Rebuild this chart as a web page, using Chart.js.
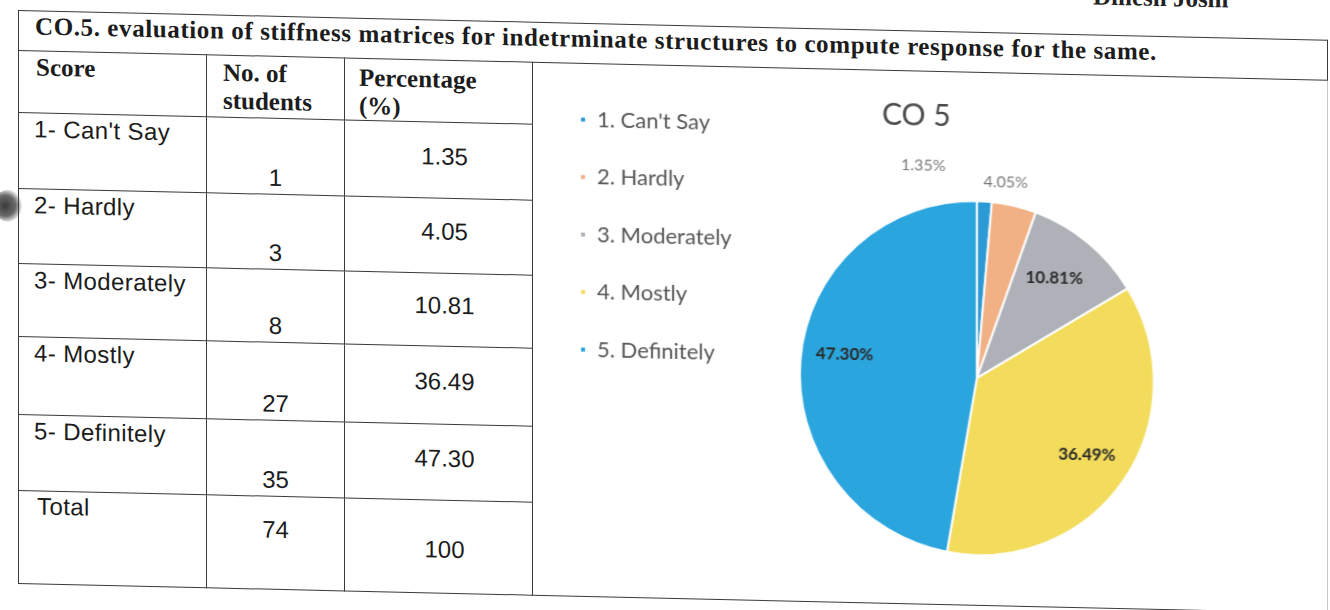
<!DOCTYPE html>
<html>
<head>
<meta charset="utf-8">
<script src="https://cdn.jsdelivr.net/npm/chart.js@4"></script>
<style>
  html, body { margin: 0; padding: 0; background: #fff; }
  body { width: 1330px; height: 610px; position: relative; overflow: hidden; }
  /* the scanned page is slightly tilted */
  #page { position: absolute; left: 18px; top: 10px; width: 1320px; height: 600px;
          transform-origin: 0 0; transform: skewY(1.3deg); }
  #topline { position: absolute; left: 1075px; top: -52px; font: bold 25px "Liberation Serif", serif; color: #222; white-space: nowrap; }
  #hole { position: absolute; left: -24px; top: 180px; width: 28px; height: 32px; border-radius: 50%;
          background: radial-gradient(circle at 40% 50%, #3a3a3a 0%, #6a6a6a 45%, rgba(255,255,255,0) 75%); }
  table { position: absolute; left: 0; top: 0; width: 1310px; border-collapse: collapse; table-layout: fixed; }
  td { border: 1.6px solid #3a3a3a; padding: 0; vertical-align: top; color: #1c1c1c; }
  td.chartCell { border-right-color: #c8c8c8; }
  .title { height: 38px; font: bold 25px "Liberation Serif", serif; line-height: 29px; padding: 0 0 0 16px; white-space: nowrap; letter-spacing: 0.6px; }
  .hd { font: bold 25px "Liberation Serif", serif; line-height: 28px; padding-top: 3px; }
  .score { font: 24px "Liberation Sans", Arial, sans-serif; line-height: 26px; letter-spacing: 0.4px; padding: 3px 0 0 15px; }
  .num { font: 24px "Liberation Sans", Arial, sans-serif; line-height: 24px; text-align: center; vertical-align: bottom; padding: 0 0 4px 0; }
  .pct { font: 24px "Liberation Sans", Arial, sans-serif; line-height: 26px; text-align: center; vertical-align: middle; padding: 0 0 8px 12px; }
  #chartBox { position: absolute; left: 517px; top: 42px; width: 770px; height: 528px; }
</style>
</head>
<body>
<div id="page">
  <div id="topline">Dinesh Joshi</div>
  <div id="hole"></div>
  <table id="tbl"></table>
  <div id="chartBox"><canvas id="pieChart"></canvas></div>
</div>
<script>
const tableTitle = 'CO.5. evaluation of stiffness matrices for indetrminate structures to compute response for the same.';
const scoreLabels = ["1- Can't Say", '2- Hardly', '3- Moderately', '4- Mostly', '5- Definitely'];
const legendLabels = ["1. Can't Say", '2. Hardly', '3. Moderately', '4. Mostly', '5. Definitely'];
const students = [1, 3, 8, 27, 35];
const percentages = [1.35, 4.05, 10.81, 36.49, 47.30];
const totalStudents = 74;
const totalPercent = '100';
const sliceColors = ['#2C9AD5', '#F2B184', '#AEB2B8', '#F3DC5C', '#2BA5DE'];
const rowHeights = [76, 75, 73, 78, 76, 93];

// table built from the arrays above
const tbl = document.getElementById('tbl');
let html = '<colgroup><col style="width:188px"><col style="width:138px"><col style="width:188px"><col></colgroup>';
html += '<tr style="height:40px"><td class="title" colspan="4">' + tableTitle + '</td></tr>';
html += '<tr style="height:62px"><td class="hd" style="padding-left:17px;padding-top:2px">Score</td>' +
        '<td class="hd" style="padding-left:16px">No. of<br>students</td>' +
        '<td class="hd" style="padding-left:14px;padding-top:5px">Percentage<br>(%)</td><td class="chartCell" rowspan="7"></td></tr>';
scoreLabels.forEach((s, i) => {
    html += '<tr style="height:' + rowHeights[i] + 'px"><td class="score">' + s + '</td><td class="num">' + students[i] +
            '</td><td class="pct">' + percentages[i].toFixed(2) + '</td></tr>';
});
html += '<tr style="height:' + rowHeights[5] + 'px"><td class="score" style="padding:2px 0 0 18px">Total</td>' +
        '<td class="num" style="vertical-align:top;padding-top:21px">' + totalStudents + '</td>' +
        '<td class="pct" style="vertical-align:top;padding:36px 0 0 12px">' + totalPercent + '</td></tr>';
tbl.innerHTML = html;

// percentage labels on / beside the slices
const sliceLabels = {
    id: 'sliceLabels',
    afterLayout(chart, args, opts) {
        // the title sits a little left of the pie centre
        const t = chart.titleBlock;
        if (t) { t.left += opts.titleShift; t.right += opts.titleShift; }
    },
    afterDatasetsDraw(chart, args, opts) {
        const ctx = chart.ctx;
        const meta = chart.getDatasetMeta(0);
        ctx.save();
        ctx.textAlign = 'center';
        ctx.textBaseline = 'middle';
        meta.data.forEach((arc, i) => {
            const v = chart.data.datasets[0].data[i];
            const mid = (arc.startAngle + arc.endAngle) / 2;
            const outside = v < 5;
            const r = outside ? arc.outerRadius + opts.outsideGap : arc.outerRadius * opts.insideRatio;
            let x = arc.x + Math.cos(mid) * r;
            let y = arc.y + Math.sin(mid) * r;
            const n = opts.nudge[i] || [0, 0];
            x += n[0]; y += n[1];
            if (outside) {
                ctx.font = '16px Lato, "Open Sans", sans-serif';
                ctx.fillStyle = '#7a7a7a';
            } else {
                ctx.font = 'bold 17px Lato, "Open Sans", sans-serif';
                ctx.fillStyle = '#2a2a2a';
            }
            ctx.fillText(v.toFixed(2) + '%', x, y);
        });
        ctx.restore();
    }
};

const pieCtx = document.getElementById('pieChart').getContext('2d');
new Chart(pieCtx, {
    type: 'pie',
    data: {
        labels: legendLabels,
        datasets: [{
            data: percentages,
            backgroundColor: sliceColors,
            borderColor: '#ffffff',
            borderWidth: 2
        }]
    },
    options: {
        responsive: true,
        maintainAspectRatio: false,
        animation: false,
        layout: { padding: { top: 8.3, bottom: 45.7, left: 9.5, right: 93 } },
        plugins: {
            title: {
                display: true,
                text: 'CO 5',
                color: '#4a4a4a',
                font: { family: 'Lato, "Open Sans", sans-serif', size: 30, weight: 'normal' },
                padding: { top: 17.3, bottom: 64.7 }
            },
            legend: {
                position: 'left',
                align: 'start',
                labels: {
                    usePointStyle: true,
                    pointStyle: 'rect',
                    boxWidth: 6,
                    boxHeight: 6,
                    padding: 35.5,
                    color: '#555555',
                    font: { family: 'Lato, "Open Sans", sans-serif', size: 22 }
                }
            },
            tooltip: { enabled: false },
            sliceLabels: {
                outsideGap: 22,
                insideRatio: 0.75,
                nudge: [[-62, -13], [-13, -2], [-6, 2], [0, 0], [0, -10]],
                titleShift: 38
            }
        }
    },
    plugins: [sliceLabels]
});
</script>
</body>
</html>
